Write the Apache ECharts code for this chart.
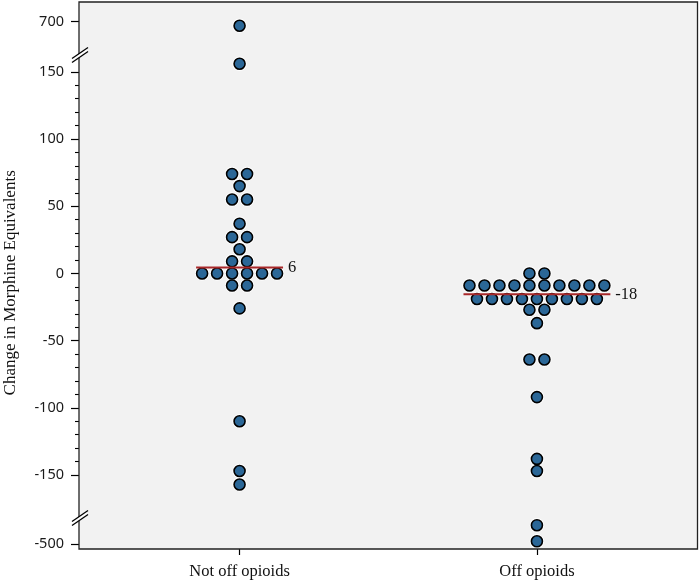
<!DOCTYPE html>
<html><head><meta charset="utf-8">
<script src="https://cdn.jsdelivr.net/npm/echarts@6/dist/echarts.min.js"></script>
<style>html,body{margin:0;padding:0;background:#fff}#c{width:700px;height:585px}</style>
</head><body><div id="c"></div>
<script>
// ---- data ----
const categories = ['Not off opioids', 'Off opioids'];
const notOffValues = [697, 156, 74, 74, 65, 55, 55, 37, 27, 27, 18, 9, 9, 0, 0, 0, 0, 0, 0, -9, -9, -26, -110, -147, -157];
const offValues = [0, 0, -9, -9, -9, -9, -9, -9, -9, -9, -9, -9, -19, -19, -19, -19, -19, -19, -19, -19, -19, -27, -27, -37, -64, -64, -92, -138, -147, -486, -498];
const centerValues = [4.5, -15.5];
const centerLabels = ['6', '-18'];
const yMin = -500, yMax = 700;
const yMajorTicks = [-500, -150, -100, -50, 0, 50, 100, 150, 700];
const yMinorTicks = [-140, -130, -120, -110, -90, -80, -70, -60, -40, -30, -20, -10,
  10, 20, 30, 40, 60, 70, 80, 90, 110, 120, 130, 140];
const yBreaks = [{ start: -482, end: -161, gap: 22.3 }, { start: 158, end: 692, gap: 21.3 }];

// ---- layout helpers ----
const STEP = 0.0504;      // horizontal spacing between stacked dots (axis units)
const RADIUS = 0.0202;
function swarm(values, g) {
  const counts = {};
  values.forEach(v => counts[v] = (counts[v] || 0) + 1);
  const used = {};
  return values.map(v => {
    const n = counts[v];
    const i = used[v] = (used[v] === undefined ? 0 : used[v] + 1);
    return [g + (i - (n - 1) / 2) * STEP, v];
  });
}
function maxRow(values) {
  const counts = {};
  values.forEach(v => counts[v] = (counts[v] || 0) + 1);
  return Math.max(...Object.values(counts));
}
const groups = [notOffValues, offValues];
const points = [].concat(...groups.map((vals, g) => swarm(vals, g)));
const centerSeries = groups.map((vals, g) => {
  const hw = (maxRow(vals) - 1) / 2 * STEP + RADIUS;
  return {
    type: 'line', silent: true, symbol: 'none', z: 6,
    lineStyle: { color: '#a8282a', width: 2 },
    endLabel: { show: true, distance: 5, formatter: centerLabels[g],
      fontFamily: 'Liberation Serif', fontSize: 16.5, color: '#111' },
    data: [[g - hw, centerValues[g]], [g + hw, centerValues[g]]]
  };
});

function breakMark(cy) {
  return [
    { type: 'polygon', z: 200, silent: true, shape: { points: [[73, cy + 3], [87, cy - 7], [87, cy - 3], [73, cy + 7]] }, style: { fill: '#fff' } },
    { type: 'line', z: 201, silent: true, shape: { x1: 72, y1: cy + 3.5, x2: 88, y2: cy - 7.5 }, style: { stroke: '#000', lineWidth: 1.3 } },
    { type: 'line', z: 201, silent: true, shape: { x1: 72, y1: cy + 7.5, x2: 88, y2: cy - 3.5 }, style: { stroke: '#000', lineWidth: 1.3 } }
  ];
}

const yCommon = {
  type: 'value', min: yMin, max: yMax, position: 'left',
  breaks: yBreaks,
  breakArea: { show: false },
  splitLine: { show: false },
  axisLine: { show: false, onZero: false }
};

const chart = echarts.init(document.getElementById('c'), null, { renderer: 'canvas' });
chart.setOption({
  backgroundColor: '#fff',
  animation: false,
  grid: { left: 79, right: 2.5, top: 21.7, bottom: 41, containLabel: false, outerBoundsMode: 'none' },
  xAxis: {
    type: 'value', min: -0.54, max: 1.54, offset: 5,
    splitLine: { show: false },
    axisLine: { show: false, onZero: false },
    axisTick: { show: true, customValues: [0, 1], length: 6, lineStyle: { color: '#000', width: 1.2 } },
    axisLabel: { customValues: [0, 1], formatter: v => categories[Math.round(v)], margin: 14,
      fontFamily: 'Liberation Serif', fontSize: 16.5, color: '#111' }
  },
  yAxis: [
    Object.assign({}, yCommon, {
      axisTick: { show: true, customValues: yMajorTicks, length: 8, lineStyle: { color: '#000', width: 1.2 } },
      axisLabel: { customValues: yMajorTicks, margin: 15, fontFamily: 'Noto Sans', fontSize: 14.5, color: '#1a1a1a',
        hideOverlap: false, showMinLabel: true, showMaxLabel: true },
      name: 'Change in Morphine Equivalents', nameLocation: 'middle', nameGap: 60,
      nameTextStyle: { fontFamily: 'Liberation Serif', fontSize: 17, color: '#111' }
    }),
    Object.assign({}, yCommon, {
      axisTick: { show: true, customValues: yMinorTicks, length: 4, lineStyle: { color: '#000', width: 1.1 } },
      axisLabel: { show: false }
    })
  ],
  graphic: [
    { type: 'rect', z: -10, silent: true, shape: { x: 79, y: 2, width: 618.5, height: 547 }, style: { fill: '#f2f2f2' } },
    { type: 'rect', z: 150, silent: true, shape: { x: 79, y: 2, width: 618.5, height: 547 }, style: { fill: 'none', stroke: '#222', lineWidth: 1.3 } },
    ...breakMark(55), ...breakMark(518)
  ],
  series: [
    { type: 'scatter', silent: true, z: 2, symbolSize: 14.5, itemStyle: { color: '#ffffff', opacity: 1 }, data: points },
    ...centerSeries,
    { type: 'scatter', silent: true, z: 5, symbolSize: 11,
      itemStyle: { color: '#2b6797', borderColor: '#000', borderWidth: 1.6, opacity: 1 }, data: points }
  ]
});
</script></body></html>
